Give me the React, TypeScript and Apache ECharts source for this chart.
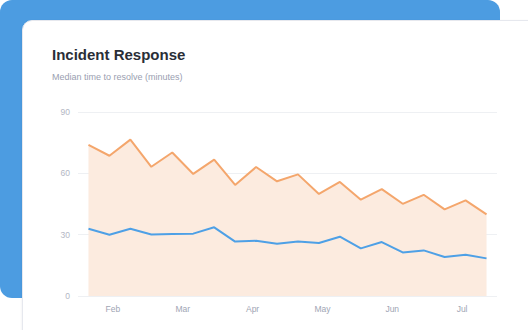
import React, { useEffect, useRef } from "react";
import * as echarts from "echarts";

// Median minutes to resolve, one value per reporting period
const p90Minutes = [73.9, 68.6, 76.5, 63.2, 70.2, 59.7, 66.7, 54.3, 63.1, 56.1, 59.5, 49.9, 55.8, 47.1, 52.3, 45.1, 49.5, 42.4, 46.8, 39.9];
const medianMinutes = [32.9, 30.0, 32.9, 30.1, 30.3, 30.5, 33.6, 26.6, 27.0, 25.6, 26.7, 25.9, 29.0, 23.3, 26.4, 21.3, 22.3, 19.1, 20.2, 18.4];
const months = ["Feb", "Mar", "Apr", "May", "Jun", "Jul"];
const yTicks = { min: 0, max: 90, interval: 30 };

const periods = p90Minutes.map((_, i) => String(i + 1));

const FONT = "'Liberation Sans', Arial, Helvetica, sans-serif";

export default function App() {
  const ref = useRef<HTMLDivElement>(null);

  useEffect(() => {
    if (!ref.current) return;
    const chart = echarts.init(ref.current, null, { renderer: "svg" });
    chart.setOption({
      animation: false,
      backgroundColor: "transparent",
      textStyle: { fontFamily: FONT },
      title: {
        text: "Incident Response",
        subtext: "Median time to resolve (minutes)",
        left: 52,
        top: 47,
        padding: 0,
        itemGap: 10,
        textStyle: { fontSize: 15, fontWeight: "bold", color: "#2a2e37", fontFamily: FONT },
        subtextStyle: { fontSize: 9, color: "#9aa0b1", fontFamily: FONT },
      },
      grid: { left: 78, right: 31, top: 112, bottom: 34 },
      xAxis: [
        {
          type: "category",
          data: periods,
          boundaryGap: true,
          show: false,
        },
        {
          type: "category",
          data: months,
          boundaryGap: true,
          position: "bottom",
          axisLine: { show: false },
          axisTick: { show: false },
          axisLabel: { color: "#a0a5b4", fontSize: 8.5, margin: 8, fontFamily: FONT },
          splitLine: { show: false },
        },
      ],
      yAxis: {
        type: "value",
        min: yTicks.min,
        max: yTicks.max,
        interval: yTicks.interval,
        axisLine: { show: false },
        axisTick: { show: false },
        axisLabel: { color: "#b3b7c4", fontSize: 8.5, margin: 8, fontFamily: FONT },
        splitLine: { lineStyle: { color: "#eef0f3", width: 1 } },
      },
      series: [
        {
          type: "line",
          xAxisIndex: 0,
          data: p90Minutes,
          symbol: "none",
          lineStyle: { color: "#f4a66c", width: 2 },
          areaStyle: { color: "#fcebdf", opacity: 1 },
          z: 2,
        },
        {
          type: "line",
          xAxisIndex: 0,
          data: medianMinutes,
          symbol: "none",
          lineStyle: { color: "#4ea0e6", width: 2 },
          z: 3,
        },
      ],
    });
    return () => chart.dispose();
  }, []);

  return (
    <div style={{ position: "fixed", left: 0, top: 0, width: 528, height: 330, overflow: "hidden", background: "#ffffff" }}>
      <div
        style={{
          position: "absolute",
          left: 0,
          top: 0,
          width: 500,
          height: 298,
          borderRadius: 12,
          background: "#4c9ce1",
        }}
      />
      <div
        style={{
          position: "absolute",
          left: 22,
          top: 20,
          width: 540,
          height: 340,
          borderRadius: 10,
          background: "#ffffff",
          border: "1px solid #e6e8ee",
          boxSizing: "border-box",
          boxShadow: "0 1px 3px rgba(20,30,60,0.08)",
        }}
      />
      <div ref={ref} style={{ position: "absolute", left: 0, top: 0, width: 528, height: 330 }} />
    </div>
  );
}
